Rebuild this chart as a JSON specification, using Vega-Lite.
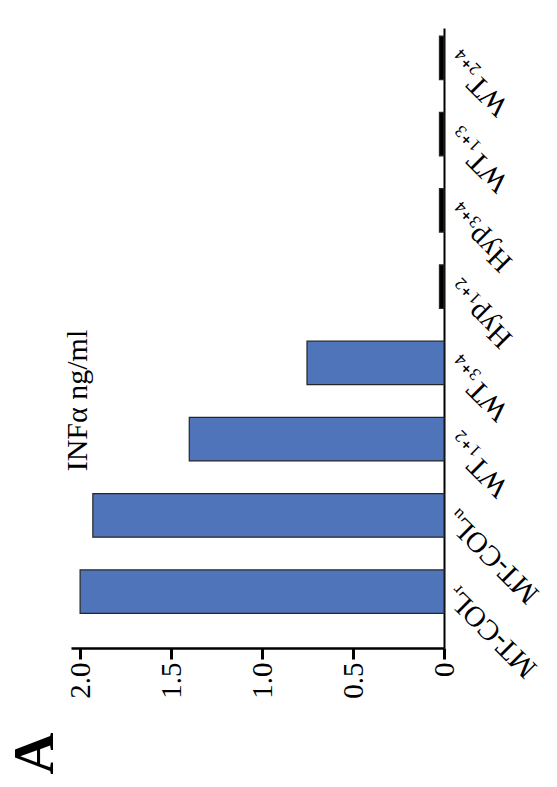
{
  "$schema": "https://vega.github.io/schema/vega-lite/v6.json",
  "width": 373,
  "height": 620,
  "autosize": "none",
  "padding": {"left": 71, "top": 28, "right": 113, "bottom": 139},
  "background": "white",
  "config": {"view": {"stroke": null}, "font": "Liberation Serif"},
  "data": {
    "values": [
      {"group": "MT-COLᵣ", "value": 2.0},
      {"group": "MT-COLᵤ", "value": 1.93},
      {"group": "WT₁₊₂", "value": 1.4},
      {"group": "WT₃₊₄", "value": 0.753},
      {"group": "Hyp₁₊₂", "value": 0.025},
      {"group": "Hyp₃₊₄", "value": 0.025},
      {"group": "WT₁₊₃", "value": 0.025},
      {"group": "WT₂₊₄", "value": 0.025}
    ]
  },
  "mark": {"type": "bar", "stroke": "#262626", "strokeWidth": 1.2},
  "encoding": {
    "y": {
      "field": "group",
      "type": "nominal",
      "sort": ["WT₂₊₄", "WT₁₊₃", "Hyp₃₊₄", "Hyp₁₊₂", "WT₃₊₄", "WT₁₊₂", "MT-COLᵤ", "MT-COLᵣ"],
      "scale": {"paddingInner": 0.43, "paddingOuter": 0.28, "align": 0.19},
      "axis": {
        "orient": "right",
        "title": "INFα ng/ml",
        "titleX": -367,
        "titleY": 372,
        "titleAngle": -90,
        "titleAlign": "center",
        "titleBaseline": "middle",
        "titleFont": "Liberation Serif",
        "titleFontSize": 30,
        "titleFontWeight": "normal",
        "titleColor": "black",
        "labelAngle": 225,
        "labelAlign": "right",
        "labelBaseline": "middle",
        "labelFont": "Liberation Serif",
        "labelFontSize": 29,
        "labelColor": "black",
        "labelPadding": 6,
        "labelOverlap": false,
        "labelLimit": 0,
        "ticks": false,
        "domainColor": "black",
        "domainWidth": 2
      }
    },
    "x": {
      "field": "value",
      "type": "quantitative",
      "scale": {"domain": [0, 2.05], "reverse": true, "nice": false},
      "axis": {
        "values": [0, 0.5, 1, 1.5, 2],
        "labelExpr": "datum.value == 0 ? '0' : format(datum.value, '.1f')",
        "labelAngle": -90,
        "labelAlign": "right",
        "labelBaseline": "middle",
        "labelFont": "Liberation Serif",
        "labelFontSize": 29,
        "labelColor": "black",
        "labelPadding": 3,
        "labelOverlap": false,
        "tickSize": 11,
        "tickWidth": 3,
        "tickColor": "black",
        "domainColor": "black",
        "domainWidth": 2.5,
        "grid": false,
        "title": "A",
        "titleAngle": -90,
        "titleX": -36,
        "titleY": 105,
        "titleAlign": "center",
        "titleBaseline": "middle",
        "titleFont": "Liberation Serif",
        "titleFontSize": 58,
        "titleFontWeight": "bold",
        "titleColor": "black"
      }
    },
    "fill": {
      "condition": {"test": "datum.value < 0.1", "value": "black"},
      "value": "#4f74ba"
    }
  }
}
